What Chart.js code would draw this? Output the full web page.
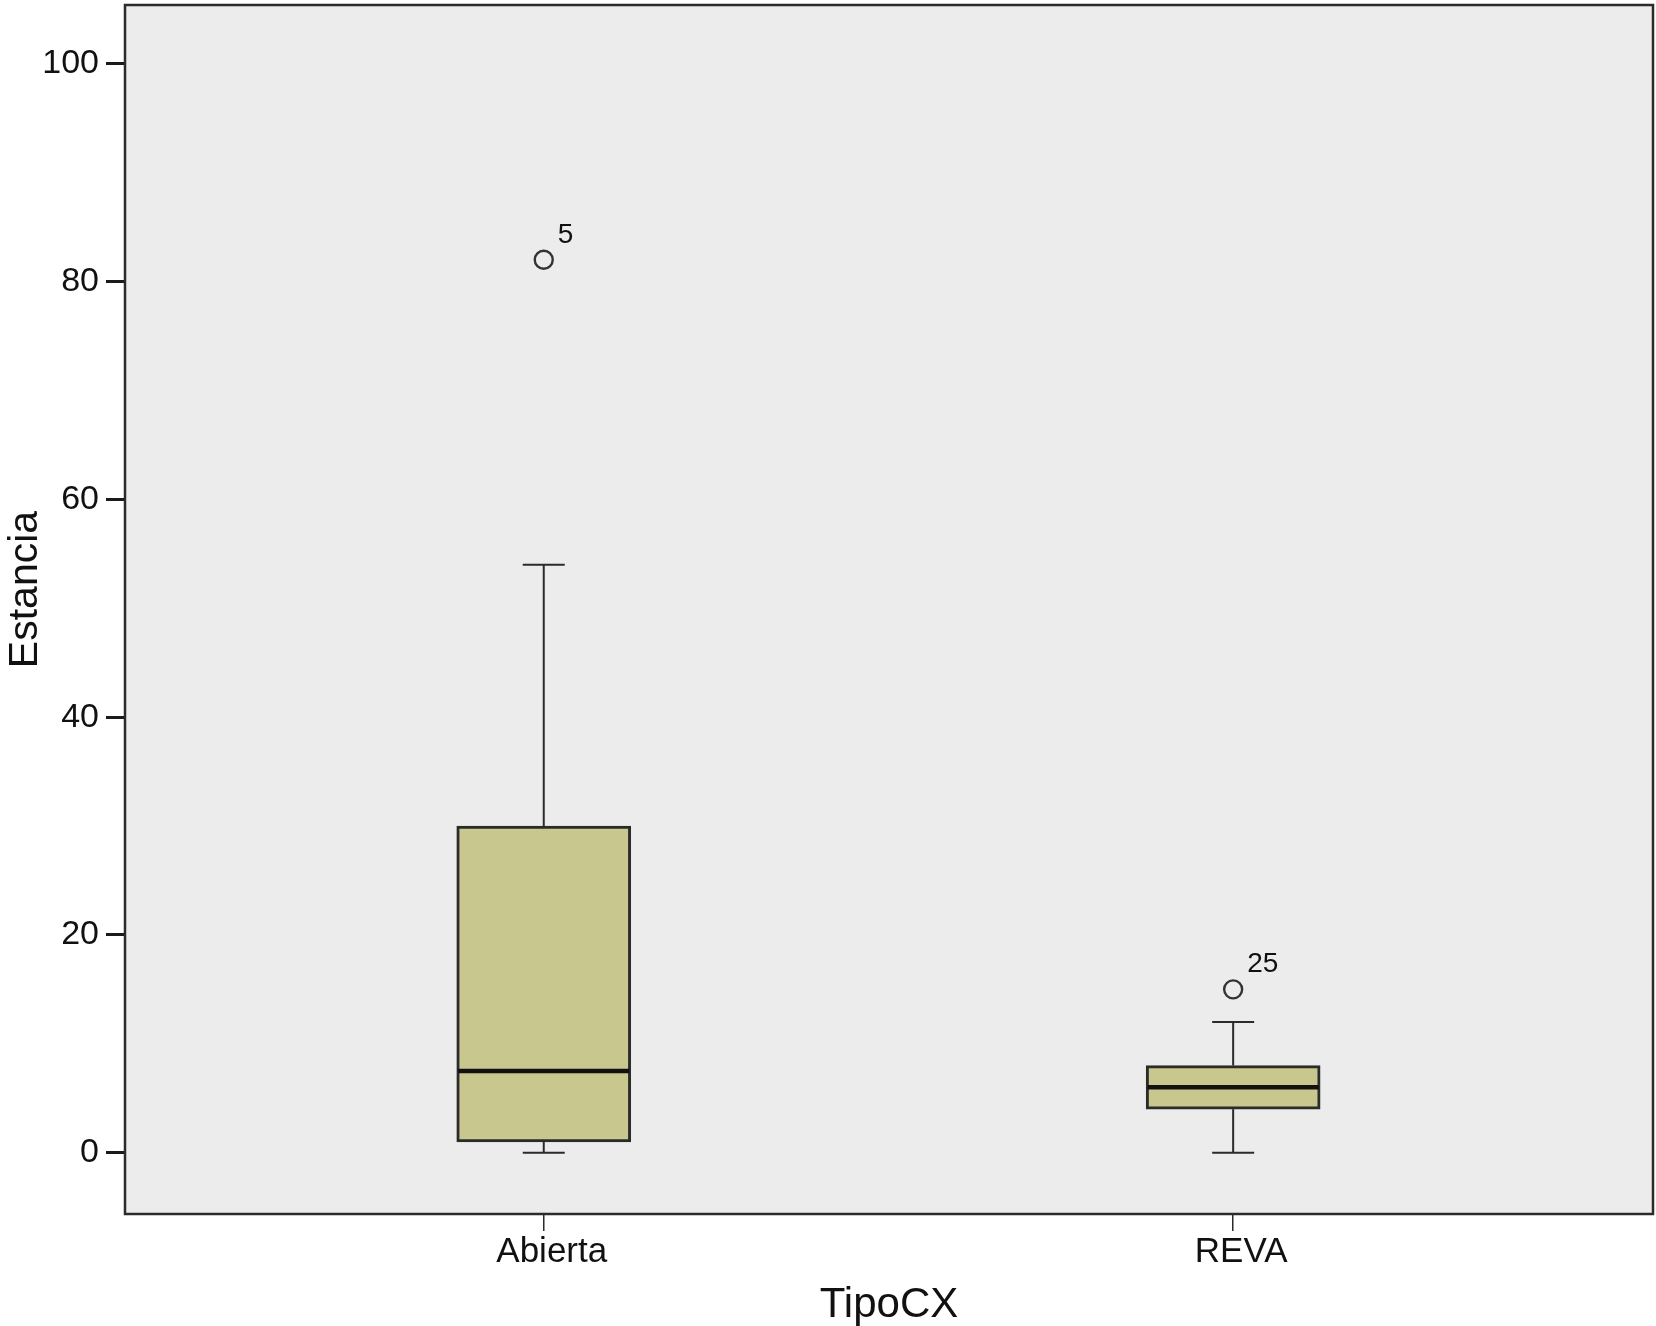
<!DOCTYPE html>
<html>
<head>
<meta charset="utf-8">
<script src="https://cdn.jsdelivr.net/npm/chart.js@4.4.1/dist/chart.umd.min.js"></script>
<style>
  html, body { margin: 0; padding: 0; background: #ffffff; }
  #wrap { width: 1656px; height: 1326px; }
</style>
</head>
<body>
<div id="wrap"><canvas id="c" width="1656" height="1326"></canvas></div>
<script>
// ---- data ----
const categories = ['Abierta', 'REVA'];
const whiskerLow  = [0, 0];
const q1          = [1, 4];
const medians     = [7.5, 6];
const q3          = [30, 8];
const whiskerHigh = [54, 12];
const outlierValues = [82, 15];
const outlierGroup  = [1, 2];      // 1 = Abierta, 2 = REVA
const outlierLabels = ['5', '25'];
const yTickValues = [0, 20, 40, 60, 80, 100];
const yTitle = 'Estancia';
const xTitle = 'TipoCX';

// ---- styles ----
const FONT = "'Liberation Sans', Arial, Helvetica, sans-serif";
const BOX_FILL = '#c8c78e';
const LINE = '#2b2b2b';
const PLOT_BG = '#ececec';
const BOX_W = 174;
const CAP_W = 42;

const boxData = categories.map((c, i) => ({ x: i + 1, y: [q1[i], q3[i]] }));
const outlierData = outlierValues.map((v, i) => ({ x: outlierGroup[i], y: v }));

const boxPlugin = {
  id: 'boxParts',
  beforeDraw(chart) {
    const { ctx, chartArea: a } = chart;
    ctx.save();
    ctx.fillStyle = PLOT_BG;
    ctx.fillRect(a.left, a.top, a.right - a.left, a.bottom - a.top);
    ctx.restore();
  },
  beforeDatasetsDraw(chart) {
    const { ctx, chartArea: a, scales: { x, y } } = chart;
    ctx.save();
    // frame
    ctx.strokeStyle = LINE;
    ctx.lineWidth = 2.5;
    ctx.strokeRect(a.left, a.top, a.right - a.left, a.bottom - a.top);
    // whiskers and caps
    ctx.lineWidth = 2;
    ctx.strokeStyle = LINE;
    categories.forEach((c, i) => {
      const px = x.getPixelForValue(i + 1);
      const segs = [[whiskerLow[i], q1[i]], [q3[i], whiskerHigh[i]]];
      segs.forEach(([a1, b1]) => {
        ctx.beginPath();
        ctx.moveTo(px, y.getPixelForValue(a1));
        ctx.lineTo(px, y.getPixelForValue(b1));
        ctx.stroke();
      });
      [whiskerLow[i], whiskerHigh[i]].forEach(v => {
        const py = y.getPixelForValue(v);
        ctx.beginPath();
        ctx.moveTo(px - CAP_W / 2, py);
        ctx.lineTo(px + CAP_W / 2, py);
        ctx.stroke();
      });
    });
    ctx.restore();
  },
  afterDatasetsDraw(chart) {
    const { ctx, chartArea: a, scales: { x, y } } = chart;
    ctx.save();
    // medians
    ctx.strokeStyle = '#111111';
    ctx.lineWidth = 4.5;
    categories.forEach((c, i) => {
      const px = x.getPixelForValue(i + 1);
      const py = y.getPixelForValue(medians[i]);
      ctx.beginPath();
      ctx.moveTo(px - BOX_W / 2 + 1.5, py);
      ctx.lineTo(px + BOX_W / 2 - 1.5, py);
      ctx.stroke();
    });
    // outlier labels
    const meta = chart.getDatasetMeta(1);
    ctx.fillStyle = '#111111';
    ctx.font = '28px ' + FONT;
    ctx.textAlign = 'left';
    ctx.textBaseline = 'alphabetic';
    meta.data.forEach((pt, i) => {
      ctx.fillText(outlierLabels[i], pt.x + 14, pt.y - 17);
    });
    ctx.restore();
  },
  afterDraw(chart) {
    const { ctx, chartArea: a } = chart;
    ctx.save();
    ctx.fillStyle = '#111111';
    ctx.font = '41px ' + FONT;
    ctx.textAlign = 'center';
    ctx.textBaseline = 'alphabetic';
    ctx.translate(37, (a.top + a.bottom) / 2 - 20);
    ctx.rotate(-Math.PI / 2);
    ctx.fillText(yTitle, 0, 0);
    ctx.restore();
  }
};

new Chart(document.getElementById('c'), {
  type: 'bar',
  data: {
    datasets: [
      {
        type: 'bar',
        data: boxData,
        backgroundColor: BOX_FILL,
        borderColor: LINE,
        borderWidth: 3,
        borderSkipped: false,
        barThickness: BOX_W,
        order: 2
      },
      {
        type: 'scatter',
        data: outlierData,
        pointStyle: 'circle',
        pointRadius: 9,
        pointBorderWidth: 2.4,
        pointBorderColor: '#333333',
        pointBackgroundColor: 'rgba(0,0,0,0)',
        showLine: false,
        order: 1
      }
    ]
  },
  options: {
    responsive: false,
    animation: false,
    events: [],
    layout: { autoPadding: false, padding: { top: 5, right: 3, left: 0, bottom: 0 } },
    plugins: { legend: { display: false }, tooltip: { enabled: false } },
    scales: {
      x: {
        type: 'linear',
        min: 0.3926,
        max: 2.609,
        offset: false,
        afterBuildTicks(scale) { scale.ticks = categories.map((c, i) => ({ value: i + 1 })); },
        afterFit(scale) { scale.height = 112; scale.paddingLeft = 0; scale.paddingRight = 0; },
        ticks: {
          callback: (v) => categories[Math.round(v) - 1],
          font: { family: FONT, size: 35 },
          color: '#111111',
          padding: 0,
          labelOffset: 8,
          maxRotation: 0,
          autoSkip: false
        },
        grid: { offset: false, drawOnChartArea: false, drawTicks: true, tickLength: 17, lineWidth: 1.5, color: LINE },
        border: { display: false },
        title: { display: true, text: xTitle, font: { family: FONT, size: 42 }, color: '#111111', padding: { top: 0, bottom: -5 } }
      },
      y: {
        type: 'linear',
        min: -5.63,
        max: 105.4,
        afterBuildTicks(scale) { scale.ticks = yTickValues.map(v => ({ value: v })); },
        afterFit(scale) { scale.width = 125; scale.paddingTop = 0; scale.paddingBottom = 0; },
        ticks: {
          font: { family: FONT, size: 34 },
          color: '#111111',
          padding: 7
        },
        grid: { offset: false, drawOnChartArea: false, drawTicks: true, tickLength: 19, lineWidth: 3, color: '#1a1a1a' },
        border: { display: false },
        title: { display: false }
      }
    }
  },
  plugins: [boxPlugin]
});
</script>
</body>
</html>
